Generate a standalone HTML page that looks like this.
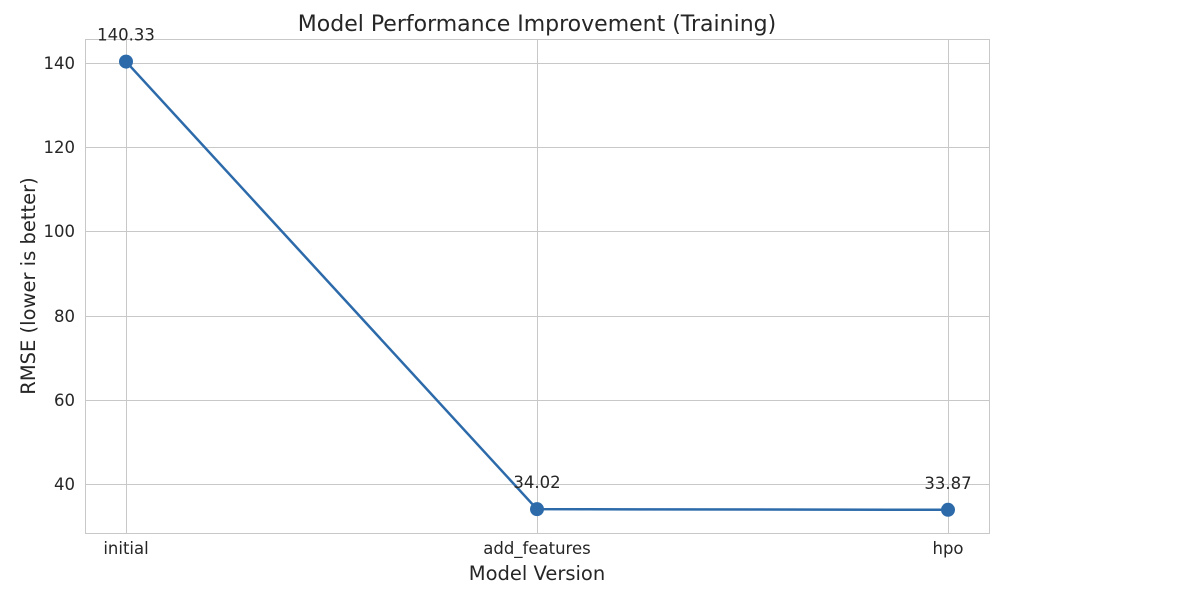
<!DOCTYPE html>
<html><head><meta charset="utf-8"><style>
html,body{margin:0;padding:0;background:#fff;}
svg{display:block;font-family:"DejaVu Sans","Liberation Sans",sans-serif;}
</style></head><body>
<svg id="chart" width="1200" height="592" viewBox="0 0 1200 592">
<rect x="0" y="0" width="1200" height="592" fill="#fff"/>
<g id="grid"></g>
<rect x="85.5" y="39.5" width="904" height="494" fill="none" stroke="#c8c8c8" stroke-width="1"/>
<g id="marks"></g>
<text x="537" y="31" text-anchor="middle" font-size="22" fill="#262626">Model Performance Improvement (Training)</text>
<text x="537" y="580" text-anchor="middle" font-size="19.5" fill="#262626">Model Version</text>
<text transform="translate(35,286) rotate(-90)" text-anchor="middle" font-size="19.5" fill="#262626">RMSE (lower is better)</text>
</svg>
<script>
const categories = ["initial", "add_features", "hpo"];
const rmseValues = [140.33, 34.02, 33.87];
const valueLabels = ["140.33", "34.02", "33.87"];
const yTicks = [40, 60, 80, 100, 120, 140];

const NS = "http://www.w3.org/2000/svg";
const plotLeft = 85, plotRight = 989, plotTop = 39, plotBottom = 533;
const yMin = 28.36, yMax = 145.7;
function xScale(i){ return 126 + i * 411; }
function yScale(v){ return plotBottom - (v - yMin) / (yMax - yMin) * (plotBottom - plotTop); }
function mk(tag, attrs, parent){ const e = document.createElementNS(NS, tag); for (const k in attrs) e.setAttribute(k, attrs[k]); parent.appendChild(e); return e; }

const gridG = document.getElementById("grid");
const marksG = document.getElementById("marks");

yTicks.forEach(t => {
  const y = Math.round(yScale(t)) + 0.5;
  const l = mk("line", {x1: plotLeft, x2: plotRight, y1: y, y2: y, stroke: "#c8c8c8", "stroke-width": 1}, gridG);
  
  
  const tx = mk("text", {x: 75, y: y + 5.5, "text-anchor": "end", "font-size": 16.5, fill: "#262626"}, gridG);
  tx.textContent = t;
  
  
});

categories.forEach((c, i) => {
  const x = Math.round(xScale(i)) + 0.5;
  const l = mk("line", {x1: x, x2: x, y1: plotTop, y2: plotBottom, stroke: "#c8c8c8", "stroke-width": 1}, gridG);
  
  
  const tx = mk("text", {x: xScale(i), y: 554, "text-anchor": "middle", "font-size": 16.5, fill: "#262626"}, gridG);
  tx.textContent = c;
  
  
});

const pts = rmseValues.map((v, i) => xScale(i) + "," + yScale(v)).join(" ");
const line = mk("polyline", {points: pts, fill: "none", stroke: "#2c6aaa", "stroke-width": 2.5, "stroke-linejoin": "round"}, marksG);



rmseValues.forEach((v, i) => {
  const c = mk("circle", {cx: xScale(i), cy: yScale(v), r: 7, fill: "#2c6aaa"}, marksG);
  
  
  const t = mk("text", {x: xScale(i), y: yScale(v) - 21, "text-anchor": "middle", "font-size": 16.5, fill: "#262626"}, marksG);
  t.textContent = valueLabels[i];
  
  
});
</script>
</body></html>
